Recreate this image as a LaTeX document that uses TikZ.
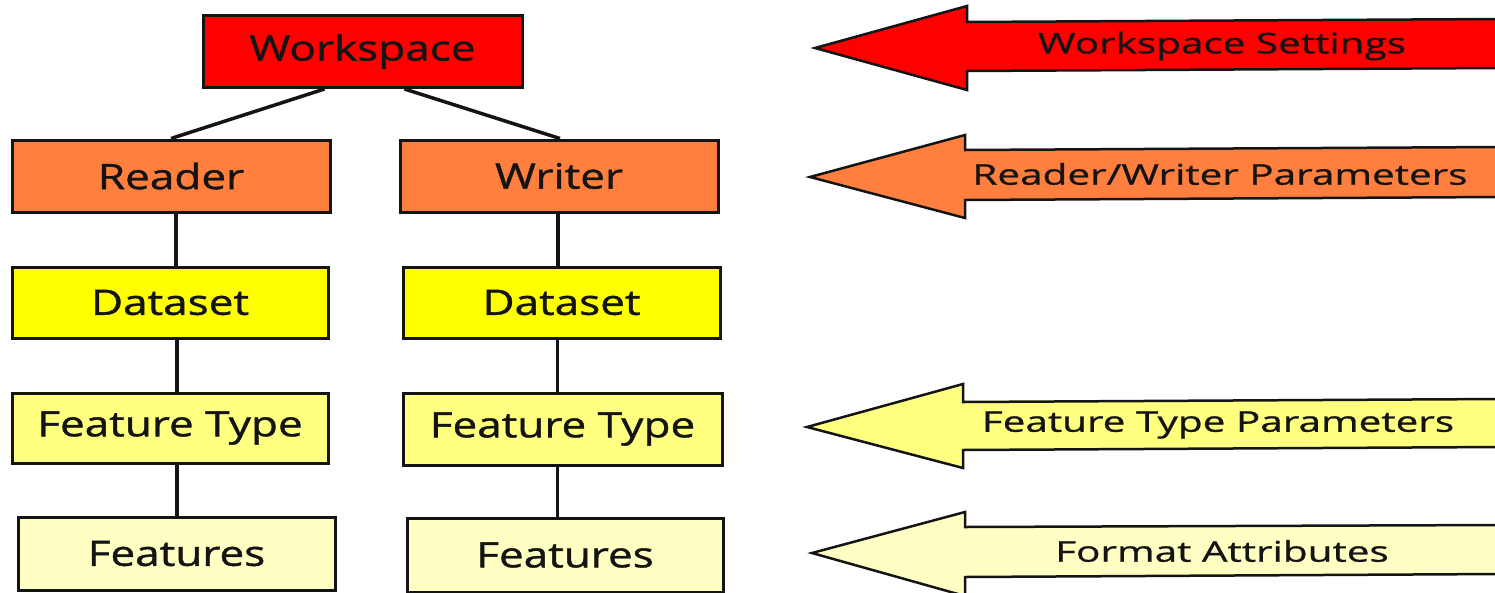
\documentclass[tikz,border=0pt]{standalone}
\usepackage{fontspec}
\setmainfont{Open Sans}
\newfontfamily\boxfont{Open Sans}[FakeStretch=1.26, FakeBold=1.2]
\newfontfamily\bandfont{Open Sans}[FakeStretch=1.42, FakeBold=0.9]
\usetikzlibrary{calc}
\definecolor{wsred}{HTML}{FF0000}
\definecolor{rworange}{HTML}{FF7F3F}
\definecolor{dsyellow}{HTML}{FFFF00}
\definecolor{ftyellow}{HTML}{FFFF80}
\definecolor{fyellow}{HTML}{FFFFC4}
\definecolor{ink}{HTML}{141414}
\tikzset{
  level/.style={draw=ink, line width=3pt, text=ink, font=\boxfont\fontsize{35}{38}\selectfont,
                minimum height=72pt, inner sep=0pt},
  link/.style={draw=ink, line width=3.5pt},
  band/.style={draw=ink, line width=2.5pt, line join=miter},
  bandtext/.style={text=ink, font=\bandfont\fontsize{28.5}{31}\selectfont, inner sep=0pt},
}
\begin{document}
\begin{tikzpicture}[x=1pt,y=-1pt]
\useasboundingbox (0,0) rectangle (1495,592);
\clip (0,0) rectangle (1495,592);

% hierarchy boxes
\node[level, fill=wsred,    minimum width=319pt] (ws)   at (362.5,51.5) {Workspace};
\node[level, fill=rworange, minimum width=318pt] (rd)   at (171,176)    {Reader};
\node[level, fill=rworange, minimum width=318pt] (wr)   at (559,176)    {Writer};
\node[level, fill=dsyellow, minimum width=316pt, minimum height=71pt] (dsl)  at (170,302.5)  {Dataset};
\node[level, fill=dsyellow, minimum width=317pt, minimum height=71pt] (dsr)  at (561.5,302.5) {Dataset};
\node[level, fill=ftyellow, minimum width=316pt, minimum height=70pt] (ftl)  at (170,428)    {Feature Type};
\node[level, fill=ftyellow, minimum width=319pt] (ftr)  at (562.5,429)  {Feature Type};
\node[level, fill=fyellow,  minimum width=317pt, minimum height=73pt] (fel)  at (176.5,553.5) {Features};
\node[level, fill=fyellow,  minimum width=316pt, minimum height=74pt] (fer)  at (565,555)    {Features};

% tree connectors
\draw[link] ([xshift=-38pt]ws.south) -- (rd.north);
\draw[link] ([xshift=42pt]ws.south) -- ([xshift=1pt]wr.north);
\draw[link] ([xshift=5pt]rd.south)  -- ([xshift=5pt]rd.south |- dsl.north);
\draw[link] ([xshift=7pt]dsl.south) -- ([xshift=7pt]dsl.south |- ftl.north);
\draw[link] ([xshift=7pt]ftl.south) -- ([xshift=7pt]ftl.south |- fel.north);
\draw[link] ([xshift=-1pt]wr.south) -- ([xshift=-1pt]wr.south |- dsr.north);
\draw[link] ([xshift=-4pt]dsr.south) -- ([xshift=-4pt]dsr.south |- ftr.north);
\draw[link] ([xshift=-5pt]ftr.south) -- ([xshift=-5pt]ftr.south |- fer.north);

% parameter arrows pointing back to the levels
\draw[band, fill=wsred] (815,48) -- (967,6) -- (967,22) -- (1500,19) -- (1500,68) -- (967,71) -- (967,90) -- cycle;
\node[bandtext] (a1) at (1222,46) {Workspace Settings};

\draw[band, fill=rworange] (810,177) -- (965,135) -- (965,150) -- (1500,147) -- (1500,197) -- (965,200) -- (965,218) -- cycle;
\node[bandtext] (a2) at (1220,174) {Reader/Writer Parameters};

\draw[band, fill=ftyellow] (807,427) -- (963,384) -- (963,402) -- (1500,399) -- (1500,447) -- (963,450) -- (963,468) -- cycle;
\node[bandtext] (a3) at (1218,425) {Feature Type Parameters};

\draw[band, fill=fyellow] (812,553) -- (965,512) -- (965,527) -- (1500,525) -- (1500,574) -- (965,577) -- (965,596) -- cycle;
\node[bandtext] (a4) at (1222,551) {Format Attributes};
\end{tikzpicture}
\end{document}
